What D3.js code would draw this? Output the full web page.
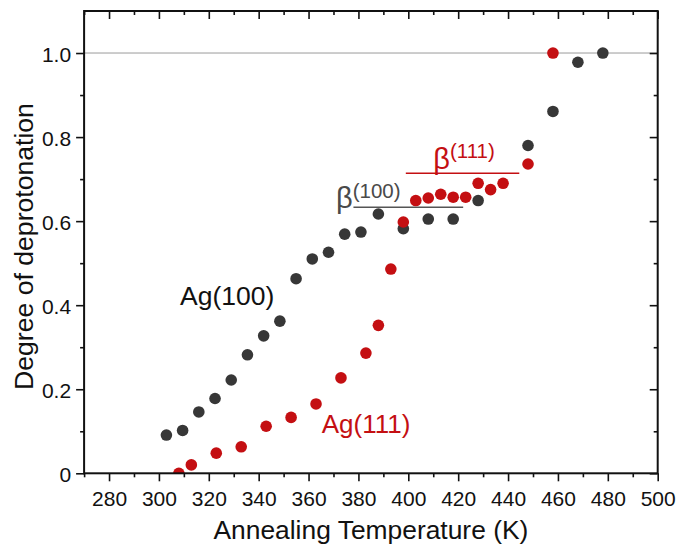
<!DOCTYPE html>
<html>
<head>
<meta charset="utf-8">
<script src="https://cdn.jsdelivr.net/npm/d3@7"></script>
<style>
  body { margin: 0; background: #fff; }
  svg { font-family: "Liberation Sans", Arial, sans-serif; }
</style>
</head>
<body>
<svg id="chart"></svg>
<script>
// Ag(100) series (dark dots)
const tempAg100 = [303, 309.5, 316, 322.5, 329, 335.5, 342, 348.5, 355, 361.5, 368, 374.5, 381, 388, 398, 408, 418, 428, 448, 458, 468, 478];
const degAg100  = [0.091, 0.102, 0.146, 0.178, 0.222, 0.282, 0.327, 0.362, 0.463, 0.510, 0.526, 0.569, 0.574, 0.617, 0.582, 0.605, 0.605, 0.649, 0.780, 0.861, 0.978, 1.0];

// Ag(111) series (red dots)
const tempAg111 = [308, 313, 323, 333, 343, 353, 363, 373, 383, 388, 393, 398, 403, 408, 413, 418, 423, 428, 433, 438, 448, 458];
const degAg111  = [0.0, 0.020, 0.048, 0.063, 0.112, 0.133, 0.165, 0.227, 0.286, 0.352, 0.486, 0.598, 0.649, 0.655, 0.664, 0.657, 0.657, 0.690, 0.675, 0.690, 0.736, 1.0];

// beta plateaus: [start T, end T, level]
const beta100 = [378, 422, 0.633];
const beta111 = [399, 444.5, 0.714];

const xTicks = [280, 300, 320, 340, 360, 380, 400, 420, 440, 460, 480, 500];
const xMinor = [270, 290, 310, 330, 350, 370, 390, 410, 430, 450, 470, 490];
const yTicks = [0, 0.2, 0.4, 0.6, 0.8, 1.0];
const yMinor = [0.1, 0.3, 0.5, 0.7, 0.9];

const WIDTH = 678, HEIGHT = 546;
const MARGIN = {top: 11, right: 20.3, bottom: 72.7, left: 84.1};
const W = WIDTH - MARGIN.left - MARGIN.right;
const H = HEIGHT - MARGIN.top - MARGIN.bottom;

const DARK = '#373737';
const RED = '#c40f12';

const x = d3.scaleLinear().domain([270, 500]).range([0, W]);
const y = d3.scaleLinear().domain([0, 1.1]).range([H, 0]);

const svg = d3.select('#chart').attr('width', WIDTH).attr('height', HEIGHT);
const g = svg.append('g').attr('transform', `translate(${MARGIN.left},${MARGIN.top})`);

svg.append('defs').append('clipPath').attr('id', 'plotclip')
  .append('rect').attr('width', W).attr('height', H);

// reference line at 1.0
g.append('line')
  .attr('x1', 0).attr('x2', W)
  .attr('y1', y(1)).attr('y2', y(1))
  .attr('stroke', '#9a9a9a').attr('stroke-width', 1);

function styleAxis(sel) {
  sel.select('.domain').remove();
  sel.selectAll('line').attr('stroke', '#111').attr('stroke-width', 1.6);
  sel.selectAll('text').attr('fill', '#111').style('font-size', '21px');
}

// bottom
g.append('g').attr('transform', `translate(0,${H})`)
  .call(d3.axisBottom(x).tickValues(xTicks).tickSize(8).tickPadding(9.5).tickFormat(d3.format('d')))
  .call(styleAxis);
g.append('g').attr('transform', `translate(0,${H})`)
  .call(d3.axisBottom(x).tickValues(xMinor).tickSize(4).tickFormat(''))
  .call(styleAxis);
// top (inward)
g.append('g')
  .call(d3.axisTop(x).tickValues(xTicks).tickSize(-8).tickFormat(''))
  .call(styleAxis);
g.append('g')
  .call(d3.axisTop(x).tickValues(xMinor).tickSize(-4).tickFormat(''))
  .call(styleAxis);
// left
g.append('g')
  .call(d3.axisLeft(y).tickValues(yTicks).tickSize(8).tickPadding(5)
    .tickFormat(d => d === 0 ? '0' : d3.format('.1f')(d)))
  .call(styleAxis)
  .call(a => a.selectAll('text').attr('dy', '0.38em'));
g.append('g')
  .call(d3.axisLeft(y).tickValues(yMinor).tickSize(4).tickFormat(''))
  .call(styleAxis);
// right (inward)
g.append('g').attr('transform', `translate(${W},0)`)
  .call(d3.axisRight(y).tickValues(yTicks).tickSize(-8).tickFormat(''))
  .call(styleAxis);
g.append('g').attr('transform', `translate(${W},0)`)
  .call(d3.axisRight(y).tickValues(yMinor).tickSize(-4).tickFormat(''))
  .call(styleAxis);

// beta plateau lines
g.append('line')
  .attr('x1', x(beta100[0])).attr('x2', x(beta100[1]))
  .attr('y1', y(beta100[2])).attr('y2', y(beta100[2]))
  .attr('stroke', '#555').attr('stroke-width', 1.6);
g.append('line')
  .attr('x1', x(beta111[0])).attr('x2', x(beta111[1]))
  .attr('y1', y(beta111[2])).attr('y2', y(beta111[2]))
  .attr('stroke', RED).attr('stroke-width', 1.6);

// dots
const dots = g.append('g').attr('clip-path', 'url(#plotclip)');
dots.selectAll('.d100')
  .data(tempAg100.map((t, i) => [t, degAg100[i]]))
  .enter().append('circle')
  .classed('d100', true)
  .attr('cx', d => x(d[0])).attr('cy', d => y(d[1]))
  .attr('r', 5.8).attr('fill', DARK);
dots.selectAll('.d111')
  .data(tempAg111.map((t, i) => [t, degAg111[i]]))
  .enter().append('circle')
  .classed('d111', true)
  .attr('cx', d => x(d[0])).attr('cy', d => y(d[1]))
  .attr('r', 5.8).attr('fill', RED);

// frame
g.append('rect').attr('width', W).attr('height', H)
  .attr('fill', 'none').attr('stroke', '#111').attr('stroke-width', 2);

// series labels
g.append('text').text('Ag(100)')
  .attr('x', x(308.5)).attr('y', y(0.4007))
  .attr('fill', '#111').style('font-size', '26.5px');
g.append('text').text('Ag(111)')
  .attr('x', x(365.3)).attr('y', y(0.095))
  .attr('fill', RED).style('font-size', '26px');

// beta labels
const b1 = g.append('text').attr('x', x(371.0)).attr('y', y(0.632)).attr('fill', '#4a4a4a');
b1.append('tspan').text('β').style('font-size', '29px');
b1.append('tspan').text('(100)').attr('dy', -9.5).style('font-size', '20.5px');
const b2 = g.append('text').attr('x', x(410.0)).attr('y', y(0.724)).attr('fill', RED);
b2.append('tspan').text('β').style('font-size', '29px');
b2.append('tspan').text('(111)').attr('dy', -11).style('font-size', '20.5px');

// axis titles
svg.append('text').text('Annealing Temperature (K)')
  .attr('x', MARGIN.left + W / 2).attr('y', 539.3)
  .attr('text-anchor', 'middle').attr('fill', '#111').style('font-size', '26.4px');
svg.append('text').text('Degree of deprotonation')
  .attr('transform', 'translate(33.3,246.5) rotate(-90)')
  .attr('text-anchor', 'middle').attr('fill', '#111').style('font-size', '26.6px');
</script>
</body>
</html>
